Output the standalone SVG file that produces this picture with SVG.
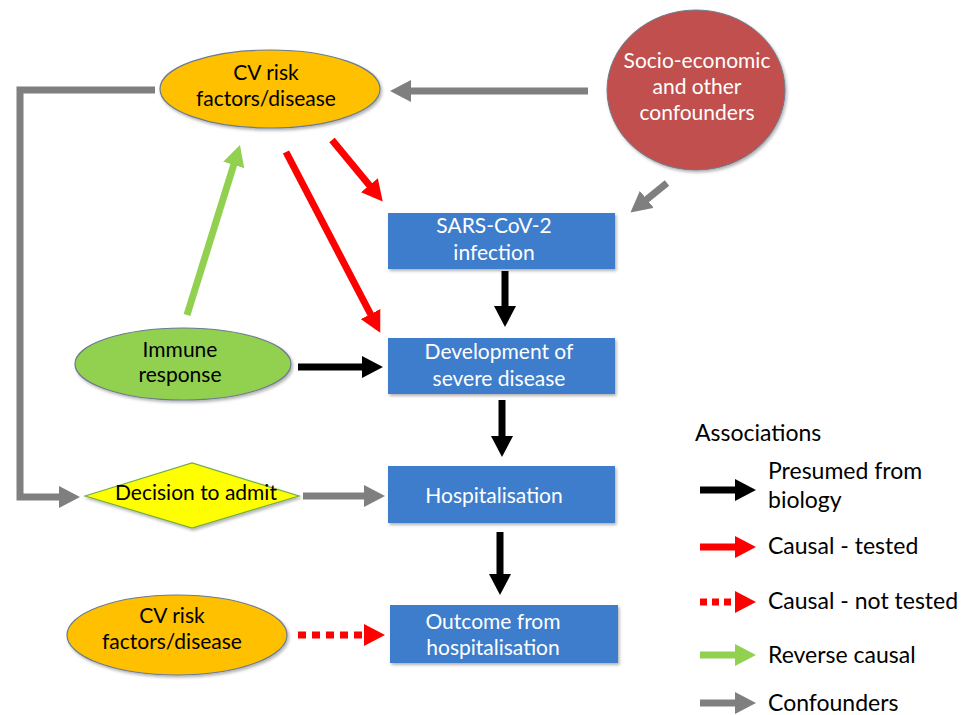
<svg xmlns="http://www.w3.org/2000/svg" width="961" height="715" viewBox="0 0 961 715">
<style>
  text { font-family: Lato, "Open Sans", "Liberation Sans", sans-serif; font-size: 21px; text-anchor: middle; }
  .w { fill: #ffffff; }
  .k { fill: #000000; }
  .lg { text-anchor: start; fill: #000000; font-size: 23px; }
  .box { fill: #3C7DCB; }
  .blk { stroke: #000000; stroke-width: 7; fill: none; }
  .red { stroke: #FF0000; stroke-width: 7; fill: none; }
  .dot { stroke: #FF0000; stroke-width: 7; fill: none; stroke-dasharray: 8 6; }
  .grn { stroke: #92D050; stroke-width: 7; fill: none; }
  .gry { stroke: #7F7F7F; stroke-width: 7; fill: none; }
</style>
<defs>
  <filter id="sh" x="-10%" y="-10%" width="125%" height="130%">
    <feDropShadow dx="1.5" dy="2" stdDeviation="1.5" flood-color="#000" flood-opacity="0.3"/>
  </filter>
  <marker id="hk" markerUnits="userSpaceOnUse" markerWidth="21" markerHeight="22" refX="1" refY="11" orient="auto" viewBox="0 0 21 22"><path d="M0,0 L21,11 L0,22 Z" fill="#000000"/></marker>
  <marker id="hr" markerUnits="userSpaceOnUse" markerWidth="21" markerHeight="22" refX="1" refY="11" orient="auto" viewBox="0 0 21 22"><path d="M0,0 L21,11 L0,22 Z" fill="#FF0000"/></marker>
  <marker id="hg" markerUnits="userSpaceOnUse" markerWidth="21" markerHeight="22" refX="1" refY="11" orient="auto" viewBox="0 0 21 22"><path d="M0,0 L21,11 L0,22 Z" fill="#92D050"/></marker>
  <marker id="hy" markerUnits="userSpaceOnUse" markerWidth="21" markerHeight="22" refX="1" refY="11" orient="auto" viewBox="0 0 21 22"><path d="M0,0 L21,11 L0,22 Z" fill="#7F7F7F"/></marker>
</defs>
<rect x="0" y="0" width="961" height="715" fill="#ffffff"/>

<g id="connectors">
  <polyline class="gry" points="155,90 20,90 20,497 60,497" marker-end="url(#hy)"/>
  <line class="gry" x1="588" y1="91" x2="410" y2="91" marker-end="url(#hy)"/>
  <line class="gry" x1="667" y1="183" x2="646" y2="200" marker-end="url(#hy)"/>
  <line class="red" x1="332" y1="140" x2="370" y2="186" marker-end="url(#hr)"/>
  <line class="red" x1="286" y1="152" x2="371" y2="315" marker-end="url(#hr)"/>
  <line class="grn" x1="187" y1="315" x2="234" y2="164" marker-end="url(#hg)"/>
  <line class="blk" x1="505" y1="271" x2="505" y2="307" marker-end="url(#hk)"/>
  <line class="blk" x1="298" y1="367" x2="363" y2="367" marker-end="url(#hk)"/>
  <line class="blk" x1="502" y1="400" x2="502" y2="437" marker-end="url(#hk)"/>
  <line class="gry" x1="303" y1="496" x2="365" y2="496" marker-end="url(#hy)"/>
  <line class="blk" x1="500" y1="532" x2="500" y2="575" marker-end="url(#hk)"/>
  <line class="dot" x1="298" y1="635" x2="365" y2="635" marker-end="url(#hr)"/>
</g>

<g id="cv-top">
  <ellipse cx="270" cy="89" rx="110" ry="39" fill="#FFC000" stroke="#6B7B8F" stroke-width="1.2" filter="url(#sh)"/>
  <text class="k" x="266" y="80">CV risk</text>
  <text class="k" x="266" y="106">factors/disease</text>
</g>

<g id="socio">
  <ellipse cx="696" cy="90" rx="89" ry="80" fill="#C0504D" stroke="#6B7B8F" stroke-width="1" filter="url(#sh)"/>
  <text class="w" x="697" y="68">Socio-economic</text>
  <text class="w" x="697" y="94">and other</text>
  <text class="w" x="697" y="120">confounders</text>
</g>

<g id="sars">
  <rect class="box" x="388" y="213" width="227" height="56" filter="url(#sh)"/>
  <text class="w" x="494" y="233">SARS-CoV-2</text>
  <text class="w" x="494" y="260">infection</text>
</g>

<g id="immune">
  <ellipse cx="183" cy="364" rx="108" ry="36" fill="#92D050" stroke="#6B7B8F" stroke-width="1.2" filter="url(#sh)"/>
  <text class="k" x="180" y="357">Immune</text>
  <text class="k" x="180" y="382">response</text>
</g>

<g id="severe">
  <rect class="box" x="388" y="338" width="227" height="56" filter="url(#sh)"/>
  <text class="w" x="499" y="359">Development of</text>
  <text class="w" x="499" y="386">severe disease</text>
</g>

<g id="decision">
  <polygon points="85,496 192,463 299,496 192,528" fill="#FFFF00" stroke="#70AD47" stroke-width="1.2" filter="url(#sh)"/>
  <text class="k" x="196" y="500">Decision to admit</text>
</g>

<g id="hospital">
  <rect class="box" x="388" y="466" width="227" height="57" filter="url(#sh)"/>
  <text class="w" x="494" y="503">Hospitalisation</text>
</g>

<g id="cv-bottom">
  <ellipse cx="177" cy="635" rx="110" ry="40" fill="#FFC000" stroke="#6B7B8F" stroke-width="1.2" filter="url(#sh)"/>
  <text class="k" x="172" y="623">CV risk</text>
  <text class="k" x="172" y="649">factors/disease</text>
</g>

<g id="outcome">
  <rect class="box" x="390" y="605" width="228" height="58" filter="url(#sh)"/>
  <text class="w" x="493" y="629">Outcome from</text>
  <text class="w" x="493" y="655">hospitalisation</text>
</g>

<g id="legend">
  <text class="lg" x="695" y="441">Associations</text>
  <line class="blk" x1="700" y1="490" x2="736" y2="490" marker-end="url(#hk)"/>
  <text class="lg" x="768" y="479">Presumed from</text>
  <text class="lg" x="768" y="508">biology</text>
  <line class="red" x1="700" y1="547" x2="736" y2="547" marker-end="url(#hr)"/>
  <text class="lg" x="768" y="554">Causal - tested</text>
  <line class="dot" x1="700" y1="602" x2="736" y2="602" marker-end="url(#hr)" style="stroke-dasharray: 7 5"/>
  <text class="lg" x="768" y="609">Causal - not tested</text>
  <line class="grn" x1="700" y1="655" x2="736" y2="655" marker-end="url(#hg)"/>
  <text class="lg" x="768" y="663">Reverse causal</text>
  <line class="gry" x1="700" y1="703" x2="736" y2="703" marker-end="url(#hy)"/>
  <text class="lg" x="768" y="711">Confounders</text>
</g>
</svg>
